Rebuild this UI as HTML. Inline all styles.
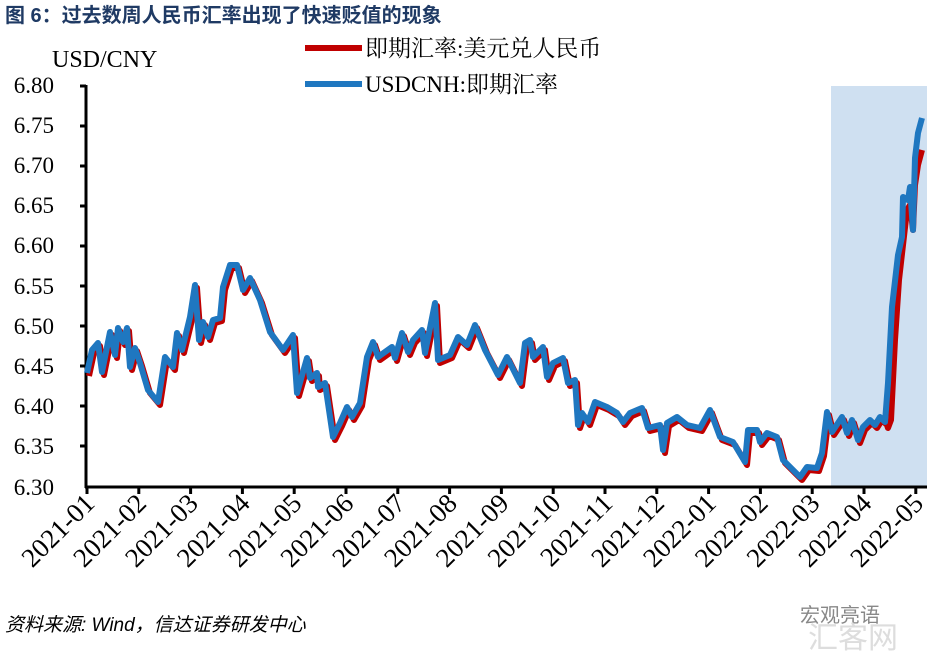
<!DOCTYPE html>
<html><head><meta charset="utf-8"><style>
html,body{margin:0;padding:0;background:#fff;width:931px;height:659px;overflow:hidden}
</style></head><body>
<svg width="931" height="659" viewBox="0 0 931 659" xmlns="http://www.w3.org/2000/svg">
<text x="5" y="22" font-family="'Liberation Sans','Noto Sans CJK SC',sans-serif" font-size="20" font-weight="bold" fill="#1F3A64">图 6：过去数周人民币汇率出现了快速贬值的现象</text>
<rect x="831" y="86" width="96" height="401" fill="#CFE0F1"/>
<text x="52" y="67" font-family="'Liberation Serif',serif" font-size="24">USD/CNY</text>
<line x1="305" y1="48" x2="362" y2="48" stroke="#C00000" stroke-width="6"/>
<text x="365" y="56" font-family="'Liberation Serif','Noto Serif CJK SC',serif" font-size="23">即期汇率:美元兑人民币</text>
<line x1="305" y1="84" x2="362" y2="84" stroke="#1F77C0" stroke-width="6"/>
<text x="365" y="92" font-family="'Liberation Serif','Noto Serif CJK SC',serif" font-size="23">USDCNH:即期汇率</text>
<g font-family="'Liberation Serif',serif" font-size="23" text-anchor="end">
<text x="54" y="93">6.80</text><text x="54" y="133">6.75</text><text x="54" y="173">6.70</text>
<text x="54" y="213">6.65</text><text x="54" y="253">6.60</text><text x="54" y="294">6.55</text>
<text x="54" y="334">6.50</text><text x="54" y="374">6.45</text><text x="54" y="414">6.40</text>
<text x="54" y="454">6.35</text><text x="54" y="495">6.30</text>
</g>
<g stroke="#000" stroke-width="3">
<line x1="86" y1="85" x2="86" y2="488"/>
<line x1="85" y1="487" x2="927" y2="487"/>
<line x1="80" y1="86" x2="86" y2="86"/><line x1="80" y1="126" x2="86" y2="126"/><line x1="80" y1="166" x2="86" y2="166"/>
<line x1="80" y1="206" x2="86" y2="206"/><line x1="80" y1="246" x2="86" y2="246"/><line x1="80" y1="286" x2="86" y2="286"/>
<line x1="80" y1="326" x2="86" y2="326"/><line x1="80" y1="366" x2="86" y2="366"/><line x1="80" y1="406" x2="86" y2="406"/>
<line x1="80" y1="446" x2="86" y2="446"/>
</g>
<g stroke="#000" stroke-width="3" id="xt"></g>
<g id="xl" font-family="'Liberation Serif',serif" font-size="27"></g>
<polyline id="red" fill="none" stroke="#C00000" stroke-width="6" stroke-linejoin="round"/>
<polyline id="blue" fill="none" stroke="#1F77C0" stroke-width="6" stroke-linejoin="round"/>
<text x="5" y="631" font-family="'Liberation Sans','Noto Sans CJK SC',sans-serif" font-size="19" font-style="italic">资料来源: Wind，信达证券研发中心</text>
<text x="800" y="622" font-family="'Liberation Sans','Noto Sans CJK SC',sans-serif" font-size="20" fill="#888">宏观亮语</text>
<text x="808" y="648" font-family="'Liberation Sans','Noto Sans CJK SC',sans-serif" font-size="30" fill="#ddd">汇客网</text>
</svg>
<script>
var B=[[87,373],[92,350],[98,343],[102,372],[110,332],[115,355],[118,328],[123,342],[127,328],[130,367],[135,348],[140,363],[148,390],[158,402],[165,357],[173,367],[177,333],[182,350],[190,317],[195,285],[199,340],[203,322],[208,337],[213,320],[220,318],[223,287],[230,265],[237,265],[243,290],[250,278],[260,300],[270,332],[283,350],[293,335],[297,393],[307,358],[310,378],[317,373],[318,387],[325,383],[333,437],[340,423],[347,407],[352,417],[360,403],[367,357],[373,342],[378,357],[392,347],[395,358],[402,333],[408,352],[413,340],[422,330],[425,353],[435,303],[438,360],[450,355],[458,337],[467,345],[475,325],[485,350],[498,375],[507,357],[520,383],[525,343],[530,340],[533,357],[543,347],[547,377],[553,363],[563,358],[568,383],[575,380],[578,425],[582,413],[588,422],[595,402],[607,407],[617,413],[623,422],[630,413],[642,408],[648,428],[660,425],[663,450],[667,423],[677,417],[687,425],[700,428],[710,410],[720,437],[733,442],[745,462],[748,430],[757,430],[760,442],[767,433],[777,437],[783,460],[793,470],[800,477],[807,467],[817,468],[822,453],[827,412],[832,432],[842,417],[847,433],[852,420],[858,440],[863,427],[870,420],[875,425],[880,417],[885,422],[888,383],[892,307],[898,255],[902,237],[903,197],[908,200],[910,187],[913,230],[915,158],[918,133],[922,118]];
var R=[];B.forEach(function(p){if(p[0]<886)R.push([p[0]+2,p[1]+3]);});
R=R.concat([[888,428],[891,420],[895,340],[899,280],[903,245],[907,210],[910,205],[913,230],[915,185],[918,165],[922,150]]);
function s(a){return a.map(function(p){return p.join(',')}).join(' ');}
document.getElementById('blue').setAttribute('points',s(B));
document.getElementById('red').setAttribute('points',s(R));
var xt=document.getElementById('xt'),xl=document.getElementById('xl'),ns='http://www.w3.org/2000/svg';
var labs=['2021-01','2021-02','2021-03','2021-04','2021-05','2021-06','2021-07','2021-08','2021-09','2021-10','2021-11','2021-12','2022-01','2022-02','2022-03','2022-04','2022-05'];
for(var i=0;i<17;i++){var x=87+i*51.8;var l=document.createElementNS(ns,'line');l.setAttribute('x1',x);l.setAttribute('x2',x);l.setAttribute('y1',487);l.setAttribute('y2',494);xt.appendChild(l);
var t=document.createElementNS(ns,'text');t.setAttribute('text-anchor','end');t.setAttribute('transform','translate('+(x+9)+',505) rotate(-45)');t.textContent=labs[i];xl.appendChild(t);}
</script>
</body></html>
